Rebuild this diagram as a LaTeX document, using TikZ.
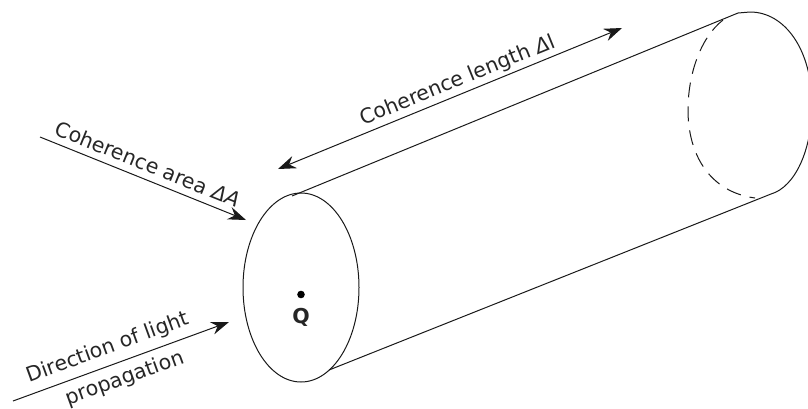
\documentclass[tikz,border=0pt]{standalone}
\usepackage{fontspec}
\setmainfont{DejaVu Sans}
\usetikzlibrary{arrows.meta}
\begin{document}
\begin{tikzpicture}[x=1pt,y=-1pt,
  line/.style={line width=1pt,black!90},
  arr/.style={line width=1pt,black!90,-{Stealth[length=18pt,width=13pt,inset=6pt]}},
  darr/.style={line width=1pt,black!90,{Stealth[length=18pt,width=13pt,inset=6pt]}-{Stealth[length=18pt,width=13pt,inset=6pt]}},
  lab/.style={font=\fontsize{20.5}{23}\selectfont,inner sep=0pt,text=black!85}]
\useasboundingbox (0,0) rectangle (808,408);
\draw[line] (301,287.5) ellipse [x radius=58,y radius=94.5];
\coordinate (t1) at (292,196);
\coordinate (t2) at (738,13);
\coordinate (tt) at (750,12);
\coordinate (b1) at (329,370);
\coordinate (b2) at (771,194);
\draw[line] (t1) -- (t2);
\draw[line] (b1) -- (b2);
\begin{scope}
\clip (0,0) rectangle (808,408);
\draw[line] (t2) -- (tt) .. controls (785,12) and (812,50) .. (812,105) .. controls (812,150) and (795,187) .. (b2);
\end{scope}
\draw[line,dash pattern=on 15pt off 9pt] (723,20) .. controls (700,38) and (688,75) .. (688,110) .. controls (688,155) and (710,192) .. (755,198);
\fill (301,294.5) circle (3.8);
\node[lab,font=\fontsize{20.5}{23}\selectfont\bfseries] (q) at (301,317) {Q};
\coordinate (a1) at (40,137); \coordinate (a2) at (246,220);
\draw[arr] (a1) -- (a2);
\node[lab,rotate=-22] (ca) at (148,164) {Coherence area \textit{ΔA}};
\coordinate (b3) at (278,169); \coordinate (b4) at (622,28);
\draw[darr] (b3) -- (b4);
\node[lab,rotate=22] (cl) at (458,81) {Coherence length \textit{Δ}l};
\coordinate (c1) at (13,401); \coordinate (c2) at (229,322);
\draw[arr] (c1) -- (c2);
\node[lab,rotate=20] (d1) at (108,348) {Direction of light};
\node[lab,rotate=20] (d2) at (125,378.5) {propagation};
\end{tikzpicture}
\end{document}
